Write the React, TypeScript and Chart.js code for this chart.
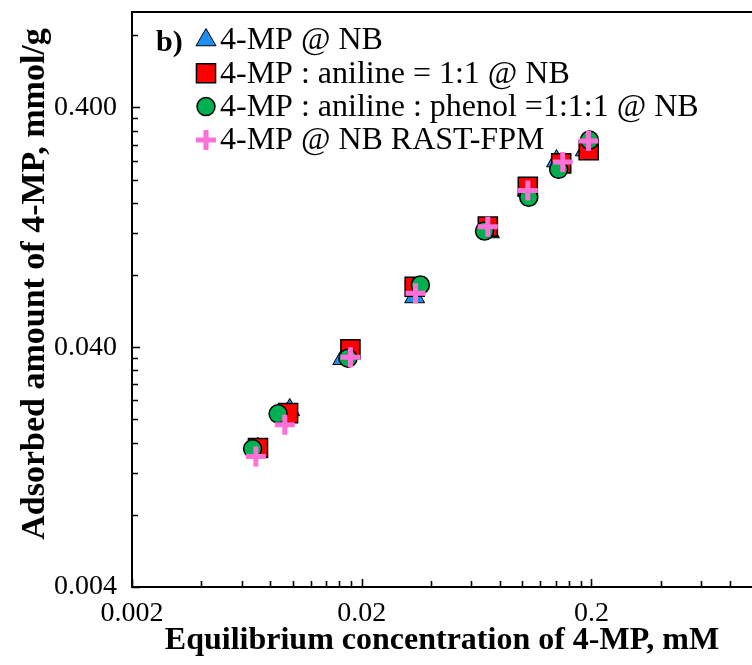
import React, { useEffect, useRef } from 'react';
import { Chart, registerables } from 'chart.js';
import { drawPoint } from 'chart.js/helpers';

Chart.register(...registerables);

// ---------- data ----------
const seriesNames = [
  '4-MP @ NB',
  '4-MP : aniline = 1:1 @ NB',
  '4-MP : aniline : phenol =1:1:1 @ NB',
  '4-MP @ NB RAST-FPM',
];

const mpX = [0.00706, 0.00972, 0.01654, 0.034, 0.072, 0.1054, 0.1409, 0.188];
const mpY = [0.0151, 0.0219, 0.0358, 0.0648, 0.1209, 0.181, 0.239, 0.2655];

const mpAnX = [0.00707, 0.00956, 0.01786, 0.034, 0.0708, 0.1057, 0.1477, 0.1946];
const mpAnY = [0.0152, 0.02124, 0.0392, 0.0715, 0.1273, 0.1866, 0.2337, 0.2655];

const mpAnPhX = [0.0067, 0.00865, 0.01743, 0.036, 0.0685, 0.1067, 0.144, 0.196];
const mpAnPhY = [0.01507, 0.0211, 0.036, 0.0727, 0.122, 0.1687, 0.2207, 0.2924];

const rastX = [0.00692, 0.00925, 0.01786, 0.0343, 0.0708, 0.1057, 0.15, 0.194];
const rastY = [0.014, 0.019, 0.0363, 0.0672, 0.1273, 0.18, 0.237, 0.29];

const xMajorTicks = [0.002, 0.02, 0.2];
const xTickLabels = ['0.002', '0.02', '0.2'];
const yMajorTicks = [0.004, 0.04, 0.4];
const yTickLabels = ['0.004', '0.040', '0.400'];

const xTitle = 'Equilibrium concentration of 4-MP, mM';
const yTitle = 'Adsorbed amount of 4-MP, mmol/g';
const panelLabel = 'b)';

const FONT = '"Liberation Serif", "Times New Roman", serif';

function pts(xs: number[], ys: number[]) {
  return xs.map((x, i) => ({ x, y: ys[i] }));
}

function minorTicks(majors: number[], max: number) {
  const out: number[] = [];
  majors.forEach((m) => {
    for (let k = 2; k <= 9; k++) {
      const v = m * k;
      if (v < max * 0.999) out.push(v);
    }
  });
  return out;
}

const framePlugin = {
  id: 'frameTicks',
  afterDraw(chart: any) {
    const { ctx, chartArea: a, scales, width } = chart;
    const xs = scales.x;
    const ys = scales.y;
    ctx.save();
    ctx.strokeStyle = '#000';
    ctx.lineWidth = 2;
    ctx.beginPath();
    ctx.moveTo(width + 2, a.top);
    ctx.lineTo(a.left, a.top);
    ctx.lineTo(a.left, a.bottom);
    ctx.lineTo(width + 2, a.bottom);
    ctx.stroke();

    ctx.lineWidth = 1.6;
    ctx.beginPath();
    xMajorTicks.forEach((v) => {
      const px = Math.round(xs.getPixelForValue(v)) + 0.5;
      ctx.moveTo(px, a.bottom);
      ctx.lineTo(px, a.bottom - 8);
    });
    minorTicks(xMajorTicks, xs.max).forEach((v) => {
      const px = Math.round(xs.getPixelForValue(v)) + 0.5;
      ctx.moveTo(px, a.bottom);
      ctx.lineTo(px, a.bottom - 6);
    });
    yMajorTicks.forEach((v) => {
      const py = Math.round(ys.getPixelForValue(v)) + 0.5;
      ctx.moveTo(a.left, py);
      ctx.lineTo(a.left + 8, py);
    });
    minorTicks(yMajorTicks, ys.max).forEach((v) => {
      const py = Math.round(ys.getPixelForValue(v)) + 0.5;
      ctx.moveTo(a.left, py);
      ctx.lineTo(a.left + 6, py);
    });
    ctx.stroke();

    // y title
    ctx.fillStyle = '#000';
    ctx.font = `bold 34px ${FONT}`;
    ctx.textAlign = 'center';
    ctx.textBaseline = 'middle';
    ctx.translate(35, 284);
    ctx.rotate(-Math.PI / 2);
    ctx.fillText(yTitle, 0, 0);
    ctx.restore();

    // legend
    ctx.save();
    ctx.fillStyle = '#000';
    ctx.font = `bold 30px ${FONT}`;
    ctx.textBaseline = 'middle';
    ctx.textAlign = 'left';
    ctx.fillText(panelLabel, 156, 43);
    ctx.font = `32px ${FONT}`;
    chart.data.datasets.forEach((ds: any, i: number) => {
      const rowY = 40 + i * 33.3;
      ctx.save();
      ctx.fillStyle = ds.pointBackgroundColor;
      ctx.strokeStyle = ds.pointBorderColor;
      ctx.lineWidth = ds.pointBorderWidth;
      drawPoint(ctx, { pointStyle: ds.pointStyle, radius: ds.pointRadius, borderWidth: ds.pointBorderWidth, rotation: 0 }, 206, rowY);
      ctx.restore();
      ctx.fillStyle = '#000';
      ctx.fillText(ds.label, 220, rowY + 1);
    });
    ctx.restore();
  },
};

function zeroPad(s: any) {
  s.paddingLeft = 0;
  s.paddingRight = 0;
  s.paddingTop = 0;
  s.paddingBottom = 0;
}

export default function App() {
  const ref = useRef<HTMLCanvasElement | null>(null);

  useEffect(() => {
    if (!ref.current) return;
    const chart = new Chart(ref.current, {
      type: 'scatter',
      data: {
        datasets: [
          {
            label: seriesNames[0],
            data: pts(mpX, mpY),
            pointStyle: 'triangle',
            pointRadius: 11.5,
            pointBackgroundColor: '#1E8FF0',
            pointBorderColor: '#000',
            pointBorderWidth: 1,
            order: 4,
          },
          {
            label: seriesNames[1],
            data: pts(mpAnX, mpAnY),
            pointStyle: 'rect',
            pointRadius: 13.5,
            pointBackgroundColor: '#FF0000',
            pointBorderColor: '#000',
            pointBorderWidth: 1.5,
            order: 3,
          },
          {
            label: seriesNames[2],
            data: pts(mpAnPhX, mpAnPhY),
            pointStyle: 'circle',
            pointRadius: 9,
            pointBackgroundColor: '#00B050',
            pointBorderColor: '#000',
            pointBorderWidth: 1.5,
            order: 2,
          },
          {
            label: seriesNames[3],
            data: pts(rastX, rastY),
            pointStyle: 'cross',
            pointRadius: 10,
            pointBackgroundColor: '#FF70D8',
            pointBorderColor: '#FF70D8',
            pointBorderWidth: 5,
            order: 1,
          },
        ],
      },
      options: {
        animation: false,
        responsive: false,
        events: [],
        layout: { autoPadding: false, padding: { top: 12, right: 0, left: 0, bottom: 0 } },
        plugins: {
          legend: { display: false },
          tooltip: { enabled: false },
        },
        scales: {
          x: {
            type: 'logarithmic',
            min: 0.002,
            max: 1,
            afterBuildTicks: (s: any) => {
              s.ticks = xMajorTicks.map((v) => ({ value: v }));
            },
            afterFit: (s: any) => {
              s.height = 78;
              zeroPad(s);
            },
            ticks: {
              callback: (v: any) => xTickLabels[xMajorTicks.indexOf(Number(v))] ?? '',
              font: { family: FONT, size: 28 },
              color: '#000',
              padding: 10,
              maxRotation: 0,
              autoSkip: false,
            },
            grid: { display: false, drawTicks: false },
            border: { display: false },
            title: {
              display: true,
              text: xTitle,
              color: '#000',
              font: { family: FONT, size: 32, weight: 'bold' },
              padding: { top: 5, bottom: 5 },
            },
          },
          y: {
            type: 'logarithmic',
            min: 0.004,
            max: 1,
            afterBuildTicks: (s: any) => {
              s.ticks = yMajorTicks.map((v) => ({ value: v }));
            },
            afterFit: (s: any) => {
              s.width = 132;
              zeroPad(s);
            },
            ticks: {
              callback: (v: any) => yTickLabels[yMajorTicks.indexOf(Number(v))] ?? '',
              font: { family: FONT, size: 28 },
              color: '#000',
              padding: 15,
              autoSkip: false,
            },
            grid: { display: false, drawTicks: false },
            border: { display: false },
            title: { display: false },
          },
        },
      },
      plugins: [framePlugin],
    } as any);
    return () => chart.destroy();
  }, []);

  return (
    <div style={{ position: 'fixed', left: 0, top: 0, width: 752, height: 665, background: '#fff' }}>
      <canvas ref={ref} width={752} height={665} />
    </div>
  );
}
